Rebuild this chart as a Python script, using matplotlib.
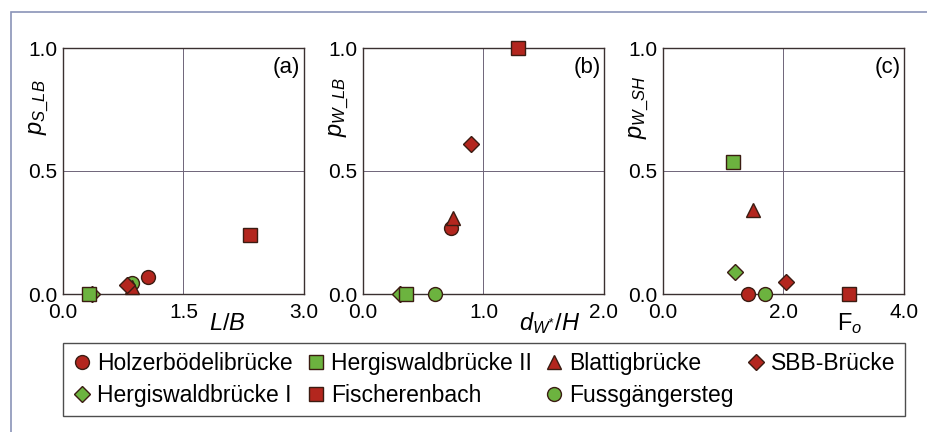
import matplotlib.pyplot as plt
from matplotlib.patches import Rectangle
from matplotlib.lines import Line2D

plt.rcParams['font.family'] = ['Liberation Sans', 'DejaVu Sans']
plt.rcParams['mathtext.fontset'] = 'custom'
plt.rcParams['mathtext.rm'] = 'Liberation Sans'
plt.rcParams['mathtext.it'] = 'Liberation Sans:italic'

# Brücken (Reihenfolge der Legende, zeilenweise)
names = ['Holzerbödelibrücke', 'Hergiswaldbrücke II', 'Blattigbrücke', 'SBB-Brücke',
         'Hergiswaldbrücke I', 'Fischerenbach', 'Fussgängersteg']
markers = ['o', 's', '^', 'D', 'D', 's', 'o']
colors = ['red', 'green', 'red', 'red', 'green', 'red', 'green']

# (a) L/B -> p_S_LB
a_x = [1.06, 0.32, 0.86, 0.80, 0.36, 2.33, 0.86]
a_y = [0.07, 0.0, 0.03, 0.035, 0.0, 0.24, 0.045]
# (b) dW*/H -> p_W_LB
b_x = [0.73, 0.36, 0.75, 0.90, 0.31, 1.29, 0.60]
b_y = [0.27, 0.0, 0.31, 0.61, 0.0, 1.0, 0.0]
# (c) Fo -> p_W_SH
c_x = [1.41, 1.16, 1.49, 2.04, 1.20, 3.09, 1.69]
c_y = [0.0, 0.535, 0.34, 0.05, 0.09, 0.0, 0.0]

col_map = {'red': '#b3261e', 'green': '#6cb33f'}
edge = '#3b1c12'
ms_map = {'o': 10, 's': 10, '^': 10, 'D': 8.5}

# Zeichenreihenfolge (hinten -> vorne)
order = [4, 6, 1, 0, 2, 3, 5]

panels = [
    (a_x, a_y, [0.0, 1.5, 3.0], r'$p_{S\_LB}$', r'$L/B$', 2.05, '(a)'),
    (b_x, b_y, [0.0, 1.0, 2.0], r'$p_{W\_LB}$', r'$d_{W^{*}}/H$', 1.55, '(b)'),
    (c_x, c_y, [0.0, 2.0, 4.0], r'$p_{W\_SH}$', r'F$_o$', 3.1, '(c)'),
]

fig = plt.figure(figsize=(9.28, 4.32), dpi=100)
fig.patches.append(Rectangle((11 / 928, -0.05), 0.99, 1.05 - 12 / 432,
                             transform=fig.transFigure, fill=False,
                             edgecolor='#8a94b8', lw=1.2))

lefts = [63, 363, 663]
for left, (xs, ys, xt, ylab, xlab, xlab_pos, tag) in zip(lefts, panels):
    ax = fig.add_axes([left / 928, 1 - 294 / 432, 241 / 928, 246 / 432])
    ax.set_xlim(xt[0], xt[-1])
    ax.set_ylim(0, 1)
    ax.set_xticks(xt)
    ax.set_yticks([0.0, 0.5, 1.0])
    ax.set_xticklabels([f'{v:.1f}' for v in xt])
    ax.set_yticklabels(['0.0', '0.5', '1.0'])
    ax.tick_params(length=0, labelsize=15)
    ax.tick_params(axis='x', pad=6.5)
    ax.tick_params(axis='y', pad=4.3)
    ax.axvline(xt[1], color='#6e6478', lw=0.7, zorder=0)
    ax.axhline(0.5, color='#6e6478', lw=0.7, zorder=0)
    for s in ax.spines.values():
        s.set_color('#3a3030')
        s.set_linewidth(1.0)
    for i in order:
        ax.plot(xs[i], ys[i], marker=markers[i], ms=ms_map[markers[i]],
                color=col_map[colors[i]], mec=edge, mew=1.0, ls='none',
                clip_on=False, zorder=3)
    ax.text(-0.10, 0.76, ylab, transform=ax.transAxes, rotation=90,
            ha='center', va='center', fontsize=17)
    ax.text(xlab_pos, -0.12, xlab, transform=ax.get_xaxis_transform(),
            ha='center', va='center', fontsize=17)
    ax.text(0.985, 0.92, tag, transform=ax.transAxes, ha='right',
            va='center', fontsize=16)

handles = [Line2D([], [], marker=markers[i], ls='none', color=col_map[colors[i]],
                  mec=edge, mew=1.0, ms=ms_map[markers[i]]) for i in range(7)]
# spaltenweise Anordnung fuer 4 Spalten
leg_order = [0, 4, 1, 5, 2, 6, 3]
leg = fig.legend([handles[i] for i in leg_order], [names[i] for i in leg_order],
                 ncol=4, loc='center', fontsize=16.5,
                 bbox_to_anchor=(63 / 928, 1 - 415 / 432, 842 / 928, 71 / 432),
                 mode='expand', frameon=True, fancybox=False,
                 handletextpad=0.2, columnspacing=0.4, borderaxespad=0,
                 borderpad=0.4, handlelength=0.9, labelspacing=0.4)
leg.get_frame().set_edgecolor('#222222')
leg.get_frame().set_linewidth(1.0)

fig.savefig('out.png', dpi=100)
